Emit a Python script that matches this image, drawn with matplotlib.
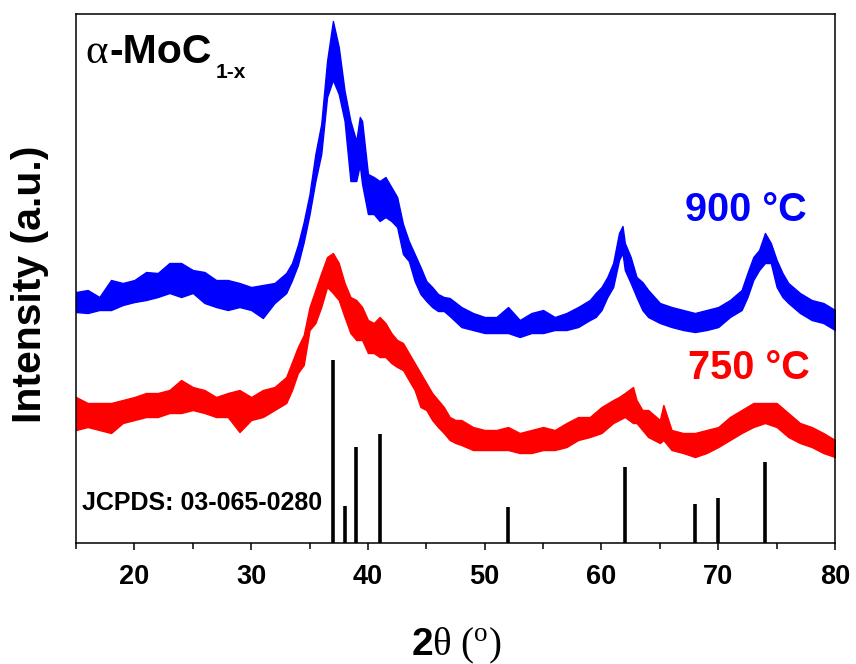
import numpy as np
import matplotlib
matplotlib.use("Agg")
import matplotlib.pyplot as plt
from matplotlib.ticker import MultipleLocator

plt.rcParams['font.family'] = ['Liberation Sans', 'DejaVu Sans']
plt.rcParams['mathtext.fontset'] = 'custom'
plt.rcParams['mathtext.rm'] = 'Liberation Serif'
plt.rcParams['mathtext.it'] = 'Liberation Serif:italic'
plt.rcParams['mathtext.bf'] = 'Liberation Sans:bold'

# 900 C pattern: 2theta and the upper / lower edge of the noisy trace (a.u.)
tt_900 = [15, 16, 17, 18, 19, 20, 21, 22, 23, 24, 25, 26, 27, 28, 29, 30, 31, 32, 33, 33.5,
          34, 34.5, 35, 35.5, 36, 36.5, 37, 37.5, 38, 38.5, 39, 39.3, 39.5, 40, 40.5, 41, 41.5,
          42, 42.5, 43, 43.5, 44, 44.5, 45, 45.5, 46, 46.5, 47, 48, 49, 50, 51, 52, 53, 54, 55,
          56, 57, 58, 59, 59.5, 60, 60.5, 61, 61.5, 61.8, 62, 62.5, 63, 63.5, 64, 65, 66, 67,
          68, 69, 70, 71, 72, 72.5, 73, 73.5, 74, 74.5, 75, 75.5, 76, 77, 78, 79, 80]
hi_900 = [251, 253, 246, 263, 260, 263, 271, 270, 280, 280, 273, 271, 263, 263, 260, 256, 258, 260, 270, 280,
          298, 321, 349, 389, 419, 482, 522, 496, 452, 422, 402, 426, 422, 369, 366, 362, 366,
          356, 346, 319, 302, 289, 276, 262, 256, 249, 246, 245, 236, 230, 226, 226, 236, 223, 230, 233,
          226, 230, 236, 243, 250, 256, 266, 280, 310, 317, 300, 286, 266, 261, 253, 240, 236, 233,
          230, 233, 236, 243, 253, 270, 286, 293, 310, 300, 283, 270, 260, 250, 243, 240, 233]
lo_900 = [231, 230, 233, 233, 238, 241, 243, 246, 250, 246, 250, 240, 236, 233, 236, 233, 225, 240, 250, 263,
          278, 301, 329, 362, 389, 446, 463, 449, 422, 362, 362, 378, 359, 329, 329, 322, 326,
          322, 316, 289, 282, 262, 249, 242, 236, 232, 232, 227, 216, 213, 210, 210, 210, 206, 210, 210,
          213, 213, 216, 223, 226, 233, 246, 256, 283, 290, 273, 260, 246, 233, 226, 220, 216, 213,
          211, 213, 216, 226, 233, 246, 263, 273, 280, 280, 256, 246, 240, 230, 223, 220, 213]

# 750 C pattern
tt_750 = [15, 16, 17, 18, 19, 20, 21, 22, 23, 24, 25, 26, 27, 28, 29, 30, 31, 32, 33, 33.5,
          34, 34.5, 35, 35.5, 36, 36.5, 37, 37.5, 38, 38.5, 39, 39.5, 40, 40.5, 41, 41.5,
          42, 42.5, 43, 43.5, 44, 44.5, 45, 45.5, 46, 46.5, 47, 47.5, 48, 49, 50, 51, 52, 53, 54, 55,
          56, 57, 58, 59, 60, 61, 61.5, 62, 62.7, 63, 63.5, 64, 65, 65.3, 66, 67,
          68, 69, 70, 71, 72, 73, 74, 75, 76, 77, 78, 79, 80]
hi_750 = [146, 140, 140, 140, 143, 146, 150, 150, 153, 163, 156, 153, 146, 150, 153, 146, 153, 156, 166, 181,
          196, 208, 236, 253, 270, 286, 290, 280, 260, 246, 243, 236, 223, 220, 226, 220,
          210, 203, 200, 190, 180, 170, 160, 150, 143, 136, 126, 123, 123, 116, 113, 113, 116, 110, 113, 116,
          113, 120, 126, 126, 136, 143, 146, 150, 156, 143, 133, 133, 123, 138, 113, 110,
          110, 113, 116, 126, 133, 140, 140, 140, 130, 120, 116, 110, 103]
lo_750 = [113, 116, 113, 110, 120, 123, 126, 126, 130, 130, 133, 130, 126, 126, 111, 123, 126, 133, 140, 153,
          170, 178, 213, 220, 236, 256, 250, 243, 226, 210, 203, 203, 190, 190, 186, 186,
          180, 176, 173, 163, 153, 136, 133, 123, 116, 110, 103, 100, 98, 93, 93, 93, 93, 90, 90, 93,
          93, 96, 103, 106, 110, 120, 123, 126, 120, 120, 113, 106, 100, 103, 93, 90,
          86, 90, 96, 103, 110, 116, 120, 116, 106, 100, 96, 90, 86]

# JCPDS 03-065-0280 reference lines
ref_pos = [37, 38, 39, 41, 52, 62, 68, 70, 74]
ref_int = [183, 37, 96, 109, 36, 76, 39, 45, 81]

fig = plt.figure(figsize=(8.56, 6.64), dpi=100)
ax = fig.add_axes([0.0888, 0.1822, 0.8867, 0.7967])

ax.fill_between(tt_900, lo_900, hi_900, color='#0000ff', lw=1.0)
ax.fill_between(tt_750, lo_750, hi_750, color='#ff0000', lw=1.0)
ax.vlines(ref_pos, 0, ref_int, color='black', lw=2.6)

ax.set_xlim(15, 80)
ax.set_ylim(0, 529)
ax.xaxis.set_major_locator(MultipleLocator(10))
ax.xaxis.set_minor_locator(MultipleLocator(5))
ax.set_yticks([])
ax.tick_params(axis='x', which='major', direction='out', length=5, width=1.1,
               labelsize=19.5, pad=10)
ax.tick_params(axis='x', which='minor', direction='out', length=4, width=1.1)
for lab in ax.get_xticklabels():
    lab.set_fontweight('bold')
for sp in ax.spines.values():
    sp.set_linewidth(1.1)

# labels
ax.text(0.0119, 0.9074, r'$\mathrm{\alpha}$', transform=ax.transAxes, fontsize=31,
        va='baseline', ha='left')
ax.text(0.0435, 0.9074, '-MoC', transform=ax.transAxes, fontsize=29.5, fontweight='bold',
        va='baseline', ha='left')
ax.text(0.1845, 0.879, '1-x', transform=ax.transAxes, fontsize=15, fontweight='bold',
        va='baseline', ha='left')
ax.text(0.8024, 0.6087, '900 \u00b0C', transform=ax.transAxes, fontsize=28.5,
        fontweight='bold', color='#0000ff', va='baseline', ha='left')
ax.text(0.806, 0.310, '750 \u00b0C', transform=ax.transAxes, fontsize=28.5,
        fontweight='bold', color='#ff0000', va='baseline', ha='left')
ax.text(0.008, 0.0624, 'JCPDS: 03-065-0280', transform=ax.transAxes, fontsize=18,
        fontweight='bold', va='baseline', ha='left')

fig.text(0.035, 0.572, 'Intensity (a.u.)', rotation=90, fontsize=29.5, fontweight='bold',
         ha='center', va='center')
fig.text(0.533, 0.0136, r'$\mathbf{2}\mathrm{\theta\ (^{o})}$', fontsize=28,
         ha='center', va='baseline')

fig.savefig('out.png', dpi=100)
